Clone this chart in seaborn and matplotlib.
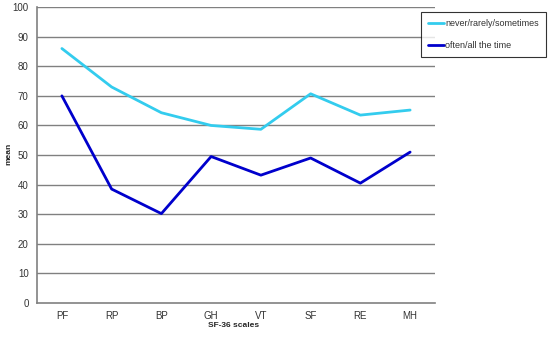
import matplotlib
matplotlib.use("Agg")
import matplotlib.pyplot as plt
import pandas as pd
import seaborn as sns

# Data
scales = ["PF", "RP", "BP", "GH", "VT", "SF", "RE", "MH"]
never_rarely = [86.0, 73.0, 64.3, 60.0, 58.7, 70.7, 63.5, 65.2]
often_always = [70.0, 38.5, 30.2, 49.5, 43.2, 49.0, 40.5, 51.0]
series_names = ["never/rarely/sometimes", "often/all the time"]

df = pd.DataFrame({
    "scale": scales * 2,
    "pos": list(range(len(scales))) * 2,
    "mean": never_rarely + often_always,
    "group": [series_names[0]] * len(scales) + [series_names[1]] * len(scales),
})

sns.set_style("white")
plt.rcParams["font.family"] = ["Liberation Sans", "DejaVu Sans"]

fig = plt.figure(figsize=(5.5, 3.38), dpi=100)
ax = fig.add_axes([0.0673, 0.1036, 0.7236, 0.8754])

grid_c = "#808080"
for yv in range(10, 101, 10):
    ax.axhline(yv, color=grid_c, lw=1.0, zorder=0)

sns.lineplot(data=df, x="pos", y="mean", hue="group",
             palette=["#33ccee", "#0000cc"], linewidth=2.0, ax=ax, legend=False)

ax.set_xlim(-0.5, len(scales) - 0.5)
ax.set_ylim(0, 100)
ax.set_yticks(range(0, 101, 10))
ax.set_xticks(range(len(scales)))
ax.set_xticklabels(scales)
ax.set_xticks([i + 0.5 for i in range(-1, len(scales))], minor=True)
ax.tick_params(axis="x", which="major", length=0, pad=6, labelsize=7, labelcolor="#333333")
ax.tick_params(axis="x", which="minor", length=4, color=grid_c, width=1, direction="out")
ax.tick_params(axis="y", length=4, color=grid_c, width=1, direction="out", labelsize=7, labelcolor="#333333", pad=2)

for side in ["top", "right"]:
    ax.spines[side].set_visible(False)
for side in ["left", "bottom"]:
    ax.spines[side].set_color(grid_c)
    ax.spines[side].set_linewidth(1.2)

ax.set_xlabel("")
ax.set_ylabel("")
fig.text(0.425, 0.038, "SF-36 scales", fontsize=6, fontweight="bold", ha="center", va="center")
fig.text(0.016, 0.545, "mean", fontsize=6, fontweight="bold", rotation=90, ha="center", va="center")

handles = [plt.Line2D([], [], color=c, lw=2) for c in ["#33ccee", "#0000cc"]]
leg = fig.legend(handles, series_names, loc="upper left",
                 bbox_to_anchor=(0.765, 0.965), fontsize=6.5, frameon=True,
                 fancybox=False, handlelength=1.8, handletextpad=0.1,
                 labelspacing=1.4, borderpad=0.8, borderaxespad=0)
leg.get_frame().set_edgecolor("#000000")
leg.get_frame().set_linewidth(0.8)
for t in leg.get_texts():
    t.set_color("#333333")

fig.savefig("out.png", dpi=100)
